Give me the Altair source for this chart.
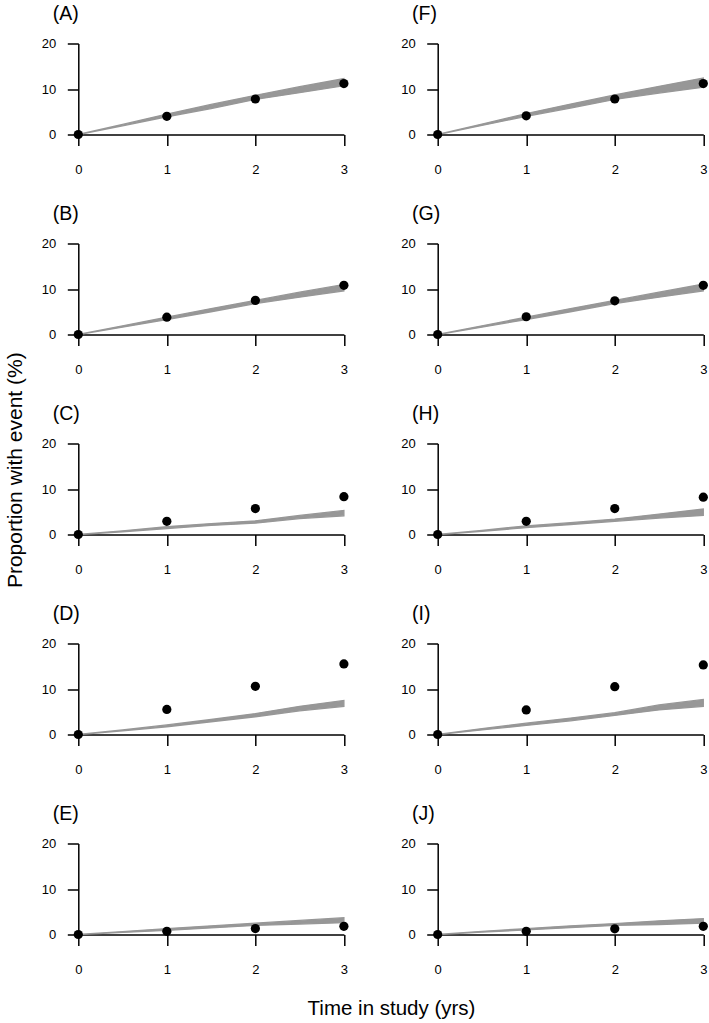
import altair as alt
import pandas as pd

# ---- data ----
panel_order = ["A", "F", "B", "G", "C", "H", "D", "I", "E", "J"]

obs_times = [0, 1, 2, 3]
observed = {
    "A": [0, 4.0, 7.8, 11.2],
    "B": [0, 3.8, 7.5, 10.8],
    "C": [0, 2.9, 5.7, 8.3],
    "D": [0, 5.5, 10.6, 15.5],
    "E": [0, 0.7, 1.3, 1.8],
    "F": [0, 4.1, 7.8, 11.2],
    "G": [0, 3.9, 7.4, 10.8],
    "H": [0, 2.9, 5.7, 8.2],
    "I": [0, 5.4, 10.5, 15.3],
    "J": [0, 0.7, 1.25, 1.8],
}

band_times = [0, 0.5, 1, 1.5, 2, 2.5, 3]
band_lower = {
    "A": [0, 1.9, 3.9, 5.7, 7.7, 9.2, 10.7],
    "B": [0, 1.6, 3.3, 5.0, 6.8, 8.2, 9.6],
    "C": [0, 0.6, 1.3, 2.0, 2.5, 3.5, 4.1],
    "D": [0, 0.8, 1.7, 2.8, 3.9, 5.2, 6.2],
    "E": [0, 0.45, 0.9, 1.45, 2.0, 2.3, 2.6],
    "F": [0, 2.0, 4.0, 5.8, 7.7, 9.1, 10.4],
    "G": [0, 1.6, 3.3, 5.0, 6.8, 8.2, 9.6],
    "H": [0, 0.7, 1.5, 2.2, 2.9, 3.6, 4.2],
    "I": [0, 1.0, 2.0, 3.0, 4.2, 5.4, 6.2],
    "J": [0, 0.5, 1.0, 1.5, 2.0, 2.2, 2.5],
}
band_upper = {
    "A": [0, 2.2, 4.5, 6.6, 8.6, 10.5, 12.3],
    "B": [0, 1.9, 3.8, 5.7, 7.5, 9.3, 11.0],
    "C": [0, 0.8, 1.7, 2.4, 3.0, 4.2, 5.3],
    "D": [0, 1.0, 2.1, 3.3, 4.6, 6.2, 7.5],
    "E": [0, 0.65, 1.3, 1.9, 2.5, 3.1, 3.7],
    "F": [0, 2.3, 4.6, 6.7, 8.7, 10.6, 12.4],
    "G": [0, 1.9, 3.8, 5.7, 7.5, 9.3, 11.1],
    "H": [0, 0.9, 1.9, 2.6, 3.4, 4.5, 5.6],
    "I": [0, 1.3, 2.5, 3.6, 4.8, 6.5, 7.7],
    "J": [0, 0.7, 1.3, 1.9, 2.4, 3.0, 3.5],
}

x_ticks = [0, 1, 2, 3]
y_ticks = [0, 10, 20]
x_title = "Time in study (yrs)"
y_title = "Proportion with event (%)"

FONT = "Liberation Sans"
W, H = 265.6, 91
ROW_GAP, COL_GAP = 109, 93.4
BAND = "#979797"


def panel(p):
    band_df = pd.DataFrame({"t": band_times, "lower": band_lower[p], "upper": band_upper[p]})
    obs_df = pd.DataFrame({"t": obs_times, "obs": observed[p]})

    xaxis_kw = dict(values=x_ticks, format="d", title=None)
    if p == "E":
        xaxis_kw.update(title=x_title, titleX=390 - 77.3, titleY=73.7,
                        titleAlign="center", titleBaseline="middle",
                        titleFontSize=20.5, titleFont=FONT, titleFontWeight="normal",
                        titleColor="black")
    xaxis = alt.Axis(**xaxis_kw)
    yaxis = alt.Axis(values=y_ticks, format="d", title=None)
    xscale = alt.Scale(domain=[0, 3], nice=False)
    yscale = alt.Scale(domain=[0, 20], nice=False)

    band = alt.Chart(band_df).mark_area(
        color=BAND, stroke=BAND, strokeWidth=1.3, interpolate="linear"
    ).encode(
        x=alt.X("t:Q", scale=xscale, axis=xaxis),
        y=alt.Y("lower:Q", scale=yscale, axis=yaxis),
        y2="upper:Q",
    )

    pts = alt.Chart(obs_df).mark_point(
        filled=True, color="black", size=85, opacity=1
    ).encode(
        x=alt.X("t:Q", scale=xscale, axis=xaxis),
        y=alt.Y("obs:Q", scale=yscale, axis=yaxis),
    )

    return alt.layer(band, pts).properties(
        width=W, height=H,
        title=alt.TitleParams(
            text=f"({p})", anchor="start", frame="group", dx=-25.6,
            fontSize=19.5, font=FONT, fontWeight="normal", color="black",
            baseline="alphabetic", offset=-2,
        ),
    )


grid = alt.concat(
    *[panel(p) for p in panel_order],
    columns=2,
    spacing={"row": ROW_GAP, "column": COL_GAP},
    bounds="flush",
)

grid_h = 5 * H + 4 * ROW_GAP
ytitle = alt.Chart(pd.DataFrame({"label": [y_title]})).mark_text(
    angle=270, align="center", baseline="middle",
    font=FONT, fontSize=21, color="black",
).encode(
    text="label:N",
    x=alt.value(15),
    y=alt.value(470 - 43.3),
).properties(width=30, height=grid_h)

chart = alt.hconcat(
    ytitle, grid,
    spacing=77.3 - 30,
    bounds="flush",
).properties(
    padding={"left": 0, "top": 3.5, "right": 0, "bottom": 0},
).configure_view(
    stroke="transparent"
).configure_axis(
    grid=False,
    domainColor="black", domainWidth=1.5,
    tickColor="black", tickWidth=1.5, tickSize=11,
    labelColor="black", labelFont=FONT, labelFontSize=13,
    labelFlush=False, labelOverlap=False,
).configure_axisX(
    labelPadding=17.5
).configure_axisY(
    labelPadding=11.5
)

chart.save("out.html", embed_options={"renderer": "svg", "actions": False})
